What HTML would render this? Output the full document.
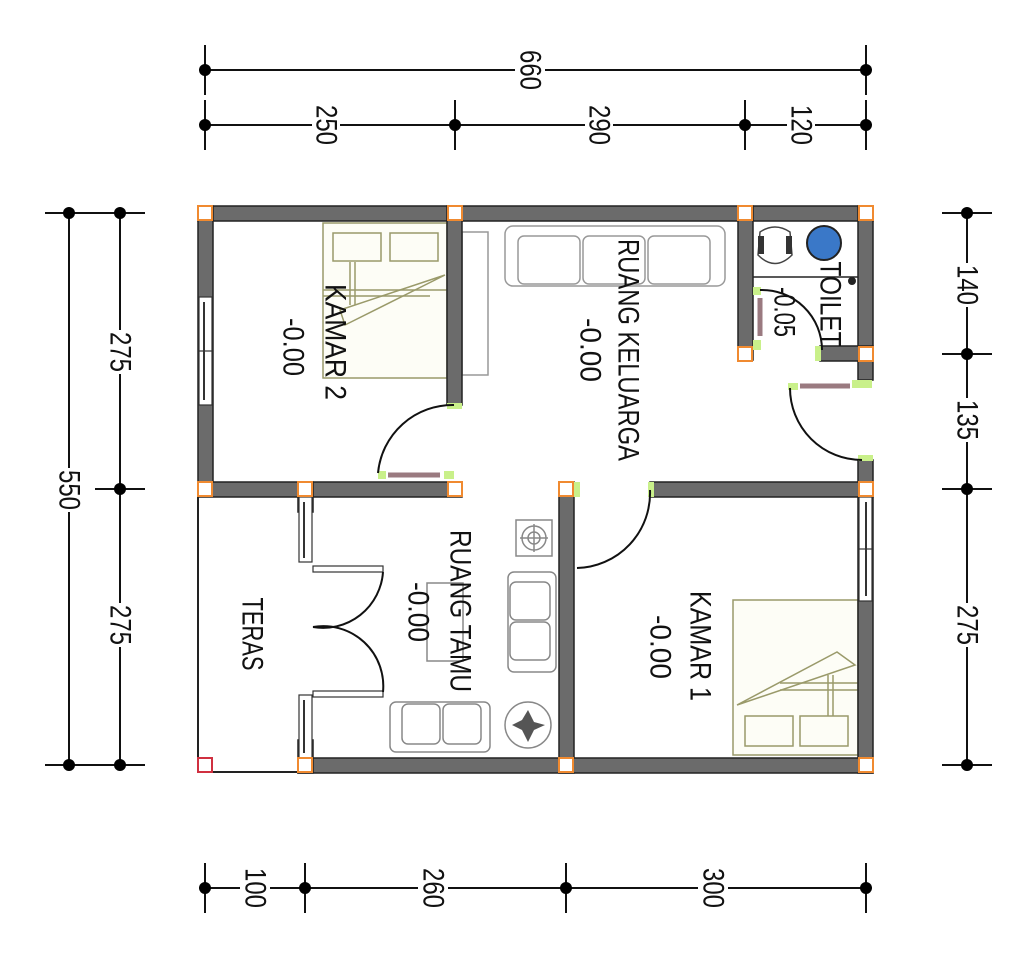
<!DOCTYPE html>
<html><head><meta charset="utf-8"><style>
html,body{margin:0;padding:0;background:#fff;}
svg{display:block;}
text{font-family:"Liberation Sans",sans-serif;fill:#111;}
</style></head><body>
<svg width="1024" height="961" viewBox="0 0 1024 961" xmlns="http://www.w3.org/2000/svg">
<rect width="1024" height="961" fill="#fff"/>
<!-- DIMENSIONS -->
<g stroke="#111" stroke-width="2" fill="none">
  <line x1="205" y1="70" x2="866" y2="70"/>
  <line x1="205" y1="125" x2="866" y2="125"/>
  <line x1="205" y1="45" x2="205" y2="95"/><line x1="866" y1="45" x2="866" y2="95"/>
  <line x1="205" y1="100" x2="205" y2="150"/><line x1="455" y1="100" x2="455" y2="150"/>
  <line x1="745" y1="100" x2="745" y2="150"/><line x1="866" y1="100" x2="866" y2="150"/>
  <line x1="69" y1="213" x2="69" y2="765"/>
  <line x1="120" y1="213" x2="120" y2="765"/>
  <line x1="45" y1="213" x2="95" y2="213"/><line x1="45" y1="765" x2="95" y2="765"/>
  <line x1="95" y1="213" x2="145" y2="213"/><line x1="95" y1="489" x2="145" y2="489"/><line x1="95" y1="765" x2="145" y2="765"/>
  <line x1="967" y1="213" x2="967" y2="765"/>
  <line x1="942" y1="213" x2="992" y2="213"/><line x1="942" y1="354" x2="992" y2="354"/><line x1="942" y1="489" x2="992" y2="489"/><line x1="942" y1="765" x2="992" y2="765"/>
  <line x1="205" y1="888" x2="866" y2="888"/>
  <line x1="205" y1="863" x2="205" y2="913"/><line x1="305" y1="863" x2="305" y2="913"/><line x1="566" y1="863" x2="566" y2="913"/><line x1="866" y1="863" x2="866" y2="913"/>
</g>
<g fill="#000">
  <circle cx="205" cy="70" r="6"/><circle cx="866" cy="70" r="6"/>
  <circle cx="205" cy="125" r="6"/><circle cx="455" cy="125" r="6"/><circle cx="745" cy="125" r="6"/><circle cx="866" cy="125" r="6"/>
  <circle cx="69" cy="213" r="6"/><circle cx="69" cy="765" r="6"/>
  <circle cx="120" cy="213" r="6"/><circle cx="120" cy="489" r="6"/><circle cx="120" cy="765" r="6"/>
  <circle cx="967" cy="213" r="6"/><circle cx="967" cy="354" r="6"/><circle cx="967" cy="489" r="6"/><circle cx="967" cy="765" r="6"/>
  <circle cx="205" cy="888" r="6"/><circle cx="305" cy="888" r="6"/><circle cx="566" cy="888" r="6"/><circle cx="866" cy="888" r="6"/>
</g>
<!-- dim label backgrounds -->
<g fill="#fff">
  <rect x="515" y="50" width="30" height="42"/>
  <rect x="312" y="103" width="28" height="44"/><rect x="585" y="103" width="28" height="44"/><rect x="787" y="103" width="28" height="44"/>
  <rect x="105" y="330" width="30" height="44"/><rect x="55" y="468" width="30" height="44"/><rect x="105" y="603" width="30" height="44"/>
  <rect x="952" y="263" width="30" height="44"/><rect x="952" y="398" width="30" height="44"/><rect x="952" y="603" width="30" height="44"/>
  <rect x="240" y="866" width="30" height="44"/><rect x="418" y="866" width="30" height="44"/><rect x="698" y="866" width="30" height="44"/>
</g>
<g font-size="30">
  <text transform="translate(530,70) rotate(90)" text-anchor="middle" dominant-baseline="central" textLength="40" lengthAdjust="spacingAndGlyphs">660</text>
  <text transform="translate(326,125) rotate(90)" text-anchor="middle" dominant-baseline="central" textLength="40" lengthAdjust="spacingAndGlyphs">250</text>
  <text transform="translate(599,125) rotate(90)" text-anchor="middle" dominant-baseline="central" textLength="40" lengthAdjust="spacingAndGlyphs">290</text>
  <text transform="translate(801,125) rotate(90)" text-anchor="middle" dominant-baseline="central" textLength="40" lengthAdjust="spacingAndGlyphs">120</text>
  <text transform="translate(120,352) rotate(90)" text-anchor="middle" dominant-baseline="central" textLength="40" lengthAdjust="spacingAndGlyphs">275</text>
  <text transform="translate(69,490) rotate(90)" text-anchor="middle" dominant-baseline="central" textLength="40" lengthAdjust="spacingAndGlyphs">550</text>
  <text transform="translate(120,625) rotate(90)" text-anchor="middle" dominant-baseline="central" textLength="40" lengthAdjust="spacingAndGlyphs">275</text>
  <text transform="translate(967,285) rotate(90)" text-anchor="middle" dominant-baseline="central" textLength="40" lengthAdjust="spacingAndGlyphs">140</text>
  <text transform="translate(967,420) rotate(90)" text-anchor="middle" dominant-baseline="central" textLength="40" lengthAdjust="spacingAndGlyphs">135</text>
  <text transform="translate(967,625) rotate(90)" text-anchor="middle" dominant-baseline="central" textLength="40" lengthAdjust="spacingAndGlyphs">275</text>
  <text transform="translate(255,888) rotate(90)" text-anchor="middle" dominant-baseline="central" textLength="40" lengthAdjust="spacingAndGlyphs">100</text>
  <text transform="translate(433,888) rotate(90)" text-anchor="middle" dominant-baseline="central" textLength="40" lengthAdjust="spacingAndGlyphs">260</text>
  <text transform="translate(713,888) rotate(90)" text-anchor="middle" dominant-baseline="central" textLength="40" lengthAdjust="spacingAndGlyphs">300</text>
</g>
<!-- TERAS outline -->
<g stroke="#222" stroke-width="2" fill="none">
  <line x1="198" y1="489" x2="198" y2="772"/>
  <line x1="198" y1="772" x2="300" y2="772"/>
</g>
<!-- FURNITURE -->
<!-- partition near kamar2 -->
<rect x="462" y="232" width="26" height="143" fill="#fff" stroke="#999" stroke-width="1.5"/>
<!-- sofa keluarga -->
<g stroke="#999" stroke-width="1.5" fill="#fff">
  <rect x="505" y="226" width="220" height="60" rx="8"/>
  <rect x="518" y="236" width="62" height="48" rx="6"/><rect x="583" y="236" width="62" height="48" rx="6"/><rect x="648" y="236" width="62" height="48" rx="6"/>
</g>
<!-- bed kamar2 -->
<g stroke="#9a9a6a" stroke-width="1.5" fill="#fdfdf6">
  <rect x="323" y="223" width="124" height="155"/>
  <rect x="333" y="233" width="48" height="28"/><rect x="390" y="233" width="48" height="28"/>
  <line x1="350" y1="262" x2="350" y2="305"/><line x1="355" y1="262" x2="355" y2="305"/>
  <line x1="323" y1="290" x2="447" y2="290"/><line x1="323" y1="296" x2="430" y2="296"/>
  <polyline points="445,275 345,325 340,310 445,275" fill="none"/>
</g>
<!-- bed kamar1 -->
<g stroke="#9a9a6a" stroke-width="1.5" fill="#fdfdf6">
  <rect x="733" y="600" width="125" height="155"/>
  <rect x="745" y="716" width="48" height="30"/><rect x="800" y="716" width="48" height="30"/>
  <line x1="828" y1="675" x2="828" y2="716"/><line x1="833" y1="675" x2="833" y2="716"/>
  <line x1="780" y1="683" x2="858" y2="683"/><line x1="780" y1="690" x2="858" y2="690"/>
  <polyline points="737,705 837,652 855,665 737,705" fill="none"/>
</g>
<!-- ruang tamu furniture -->
<g stroke="#888" stroke-width="1.5" fill="#fff">
  <rect x="516" y="520" width="36" height="36"/>
  <circle cx="534" cy="538" r="12"/><circle cx="534" cy="538" r="6"/>
  <line x1="520" y1="538" x2="548" y2="538"/><line x1="534" y1="524" x2="534" y2="552"/>
  <rect x="508" y="572" width="48" height="100" rx="6"/>
  <rect x="510" y="582" width="40" height="38" rx="6"/><rect x="510" y="622" width="40" height="38" rx="6"/>
  <rect x="390" y="702" width="100" height="50" rx="6"/>
  <rect x="402" y="704" width="38" height="40" rx="6"/><rect x="443" y="704" width="38" height="40" rx="6"/>
  <circle cx="528" cy="725" r="23"/>
  <rect x="427" y="583" width="36" height="78" fill="none"/>
</g>
<polygon points="528,710 534,722 545,725 534,730 528,742 522,730 512,725 522,720" fill="#555"/>
<!-- toilet fixtures -->
<g>
  <path d="M760 232 Q775 222 790 232 L792 255 Q775 272 758 255 Z" fill="#fff" stroke="#444" stroke-width="1.5"/>
  <rect x="758" y="236" width="6" height="18" fill="#333"/><rect x="786" y="236" width="6" height="18" fill="#333"/>
  <circle cx="824" cy="243" r="17" fill="#3a78c8" stroke="#222" stroke-width="2"/>
  <line x1="753" y1="277" x2="858" y2="277" stroke="#222" stroke-width="1.5"/>
  <circle cx="852" cy="281" r="4" fill="#222"/>
  <rect x="772" y="207" width="66" height="12" fill="#fff" stroke="#444" stroke-width="1.2"/>
  <line x1="776" y1="213" x2="834" y2="213" stroke="#444"/>
</g>
<!-- WALLS -->
<g fill="#6b6b6b" stroke="#222" stroke-width="1.5">
  <rect x="198" y="206" width="675" height="15"/>
  <rect x="198" y="206" width="15" height="283"/>
  <rect x="198" y="482" width="264" height="15"/>
  <rect x="447" y="206" width="15" height="199"/>
  <rect x="738" y="206" width="15" height="154"/>
  <rect x="858" y="206" width="15" height="174"/>
  <rect x="820" y="346" width="53" height="15"/>
  <rect x="858" y="460" width="15" height="313"/>
  <rect x="650" y="482" width="223" height="15"/>
  <rect x="559" y="482" width="15" height="291"/>
  <rect x="298" y="758" width="575" height="15"/>
  <rect x="298" y="482" width="15" height="30"/>
  <rect x="298" y="740" width="15" height="33"/>
</g>
<!-- windows -->
<g fill="#fff" stroke="#333" stroke-width="1.2">
  <rect x="199" y="297" width="13" height="108"/>
  <line x1="204" y1="302" x2="204" y2="400" stroke-width="2"/>
  <line x1="199" y1="351" x2="212" y2="351"/>
  <rect x="859" y="497" width="13" height="104"/>
  <line x1="866" y1="502" x2="866" y2="596" stroke-width="2"/>
  <line x1="859" y1="549" x2="872" y2="549"/>
  <rect x="299" y="497" width="13" height="65"/>
  <line x1="304" y1="502" x2="304" y2="558" stroke-width="2"/>
  <rect x="299" y="695" width="13" height="63"/>
  <line x1="304" y1="700" x2="304" y2="753" stroke-width="2"/>
  <rect x="313" y="566" width="70" height="6"/><rect x="313" y="691" width="70" height="6"/>
</g>
<!-- door leaves -->
<g stroke="#9a7a80" stroke-width="5">
  <line x1="388" y1="475" x2="440" y2="475"/>
  <line x1="760" y1="298" x2="760" y2="336"/>
  <line x1="800" y1="386" x2="850" y2="386"/>
</g>
<g fill="#c9f08a">
  <rect x="447" y="403" width="15" height="6"/><rect x="378" y="471" width="8" height="8"/><rect x="444" y="471" width="10" height="8"/>
  <rect x="648" y="482" width="6" height="15"/><rect x="574" y="482" width="6" height="15"/>
  <rect x="753" y="287" width="8" height="8"/><rect x="753" y="340" width="8" height="10"/><rect x="815" y="346" width="6" height="15"/>
  <rect x="788" y="383" width="10" height="7"/><rect x="852" y="380" width="20" height="8"/><rect x="858" y="455" width="15" height="6"/>
</g>
<!-- door arcs -->
<g stroke="#111" stroke-width="2" fill="none">
  <path d="M454 405 A75 75 0 0 0 378 473"/>
  <path d="M650 490 A75 75 0 0 1 577 568"/>
  <path d="M760 290 A60 60 0 0 1 822 350"/>
  <path d="M790 388 A72 72 0 0 0 862 460"/>
  <path d="M383 572 A60 60 0 0 1 313 627"/>
  <path d="M383 692 A60 60 0 0 0 313 627"/>
</g>
<!-- column squares -->
<g fill="#fff" stroke="#f08a30" stroke-width="2">
  <rect x="198" y="206" width="14" height="14"/><rect x="448" y="206" width="14" height="14"/>
  <rect x="738" y="206" width="14" height="14"/><rect x="859" y="206" width="14" height="14"/>
  <rect x="859" y="347" width="14" height="14"/><rect x="738" y="347" width="14" height="14"/>
  <rect x="198" y="482" width="14" height="14"/><rect x="298" y="482" width="14" height="14"/>
  <rect x="448" y="482" width="14" height="14"/><rect x="559" y="482" width="14" height="14"/>
  <rect x="859" y="482" width="14" height="14"/>
  <rect x="298" y="758" width="14" height="14"/><rect x="559" y="758" width="14" height="14"/>
  <rect x="859" y="758" width="14" height="14"/>
</g>
<rect x="198" y="758" width="14" height="14" fill="#fff" stroke="#d03040" stroke-width="2"/>
<!-- ROOM LABELS -->
<g font-size="30">
  <text transform="translate(335,342) rotate(90)" text-anchor="middle" dominant-baseline="central" textLength="116" lengthAdjust="spacingAndGlyphs">KAMAR 2</text>
  <text transform="translate(293,347) rotate(90)" text-anchor="middle" dominant-baseline="central" textLength="58" lengthAdjust="spacingAndGlyphs">-0.00</text>
  <text transform="translate(628,350) rotate(90)" text-anchor="middle" dominant-baseline="central" textLength="222" lengthAdjust="spacingAndGlyphs">RUANG KELUARGA</text>
  <text transform="translate(590,350) rotate(90)" text-anchor="middle" dominant-baseline="central" textLength="64" lengthAdjust="spacingAndGlyphs">-0.00</text>
  <text transform="translate(830,304) rotate(90)" text-anchor="middle" dominant-baseline="central" textLength="85" lengthAdjust="spacingAndGlyphs">TOILET</text>
  <text transform="translate(784,312) rotate(90)" text-anchor="middle" dominant-baseline="central" textLength="50" lengthAdjust="spacingAndGlyphs">-0.05</text>
  <text transform="translate(460,611) rotate(90)" text-anchor="middle" dominant-baseline="central" textLength="162" lengthAdjust="spacingAndGlyphs">RUANG TAMU</text>
  <text transform="translate(418,612) rotate(90)" text-anchor="middle" dominant-baseline="central" textLength="60" lengthAdjust="spacingAndGlyphs">-0.00</text>
  <text transform="translate(252,634) rotate(90)" text-anchor="middle" dominant-baseline="central" textLength="73" lengthAdjust="spacingAndGlyphs">TERAS</text>
  <text transform="translate(700,646) rotate(90)" text-anchor="middle" dominant-baseline="central" textLength="110" lengthAdjust="spacingAndGlyphs">KAMAR 1</text>
  <text transform="translate(660,647) rotate(90)" text-anchor="middle" dominant-baseline="central" textLength="64" lengthAdjust="spacingAndGlyphs">-0.00</text>
</g>
</svg>
</body></html>
